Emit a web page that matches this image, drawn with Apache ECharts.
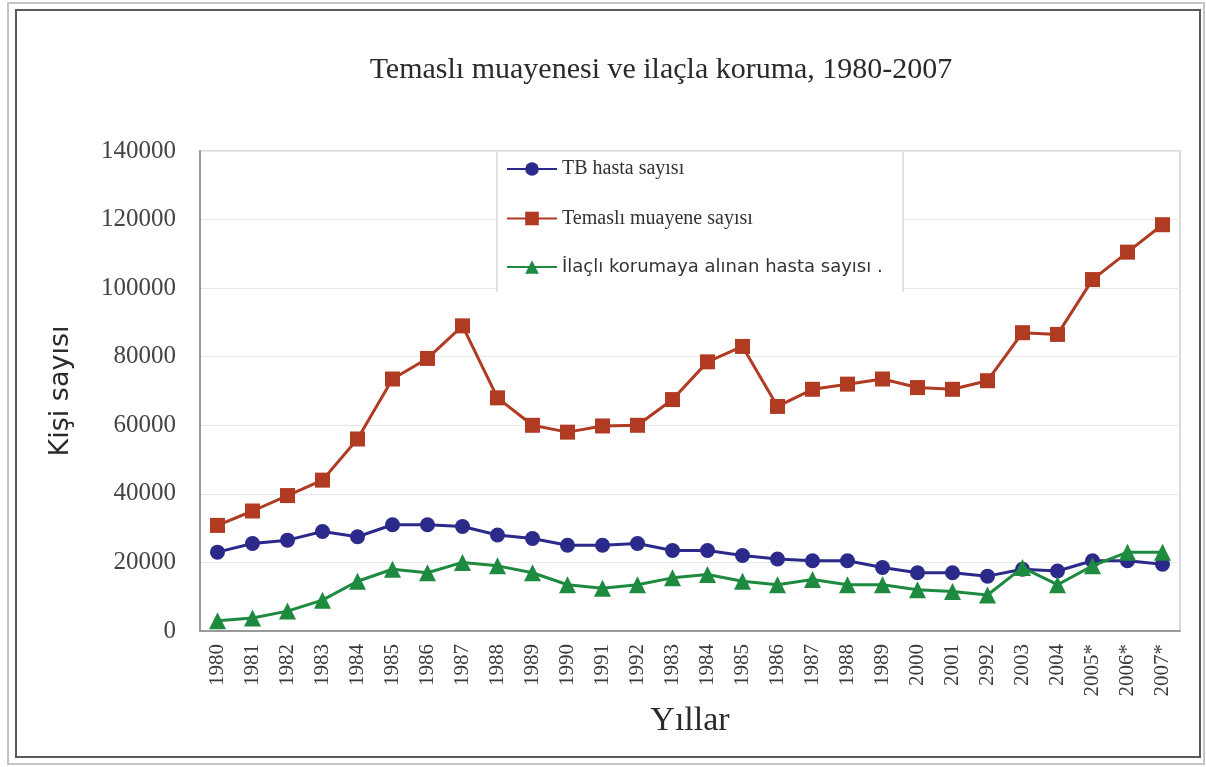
<!DOCTYPE html>
<html>
<head>
<meta charset="utf-8">
<script src="https://cdn.jsdelivr.net/npm/echarts@6/dist/echarts.min.js"></script>
<style>
  html, body { margin: 0; padding: 0; background: #fff; }
  #chart { width: 1206px; height: 767px; }
</style>
</head>
<body>
<div id="chart"></div>
<script>
// Years on the category axis (labels as printed)
const years = ['1980','1981','1982','1983','1984','1985','1986','1987','1988','1989',
  '1990','1991','1992','1983','1984','1985','1986','1987','1988','1989',
  '2000','2001','2992','2003','2004','2005*','2006*','2007*'];

// TB hasta sayısı
const tbCases = [23000,25500,26500,29000,27500,31000,31000,30500,28000,27000,
  25000,25000,25500,23500,23500,22000,21000,20500,20500,18500,
  17000,17000,16000,18000,17500,20500,20500,19500];

// Temaslı muayene sayısı
const contactExams = [30800,35000,39500,44000,56000,73500,79500,89000,68000,60000,
  58000,59800,60000,67500,78500,83000,65500,70500,72000,73500,
  71000,70500,73000,87000,86500,102500,110500,118500];

// İlaçlı korumaya alınan hasta sayısı
const prophylaxis = [3000,3800,5800,9000,14500,18000,17000,20000,19000,17000,
  13500,12500,13500,15500,16500,14500,13500,15000,13500,13500,
  12000,11500,10500,18500,13500,19000,23000,23000];

const yTicks = { min: 0, max: 140000, interval: 20000 };

const serif = '"Liberation Serif", "DejaVu Serif", serif';
const sans = '"DejaVu Sans", "Noto Sans", sans-serif';

const names = ['TB hasta sayısı', 'Temaslı muayene sayısı', 'İlaçlı korumaya alınan hasta sayısı .'];
const colors = ['#2b2a8a', '#b03a22', '#1d8a3f'];

const chart = echarts.init(document.getElementById('chart'), null, { renderer: 'canvas' });

chart.setOption({
  animation: false,
  backgroundColor: '#fff',
  title: {
    text: 'Temaslı muayenesi ve ilaçla koruma, 1980-2007',
    left: 656,
    textAlign: 'center',
    top: 50,
    textStyle: { fontFamily: serif, fontSize: 30, fontWeight: 'normal', color: '#2a2a2a' }
  },
  graphic: [
    // outer double frame
    { type: 'rect', shape: { x: 8, y: 3, width: 1196, height: 761 },
      style: { fill: 'none', stroke: '#c4c4c4', lineWidth: 2 }, z: 10 },
    { type: 'rect', shape: { x: 16, y: 10, width: 1184, height: 747 },
      style: { fill: 'none', stroke: '#5a5a5a', lineWidth: 2 }, z: 10 },
    // legend panel
    { type: 'rect', shape: { x: 497, y: 152, width: 406, height: 140 },
      style: { fill: '#fff', stroke: null }, z: 1 },
    { type: 'line', shape: { x1: 497, y1: 151, x2: 497, y2: 292 },
      style: { stroke: '#d8d8d8', lineWidth: 1.5 }, z: 1 },
    { type: 'line', shape: { x1: 903, y1: 151, x2: 903, y2: 292 },
      style: { stroke: '#d8d8d8', lineWidth: 1.5 }, z: 1 }
  ],
  legend: {
    orient: 'vertical',
    left: 506,
    top: 159,
    padding: 0,
    itemGap: 29.5,
    itemWidth: 50,
    itemHeight: 17,
    data: [
      { name: names[0], textStyle: { fontFamily: serif, fontSize: 20, color: '#333' } },
      { name: names[1], textStyle: { fontFamily: serif, fontSize: 20, color: '#333' } },
      { name: names[2], textStyle: { fontFamily: sans, fontSize: 18, color: '#333' } }
    ]
  },
  grid: { left: 200, right: 26, top: 151, bottom: 136, show: true, borderColor: '#cfcfcf', borderWidth: 1.5 },
  xAxis: {
    type: 'category',
    data: years,
    boundaryGap: true,
    name: 'Yıllar',
    nameLocation: 'middle',
    nameGap: 70,
    nameTextStyle: { fontFamily: serif, fontSize: 34, color: '#2a2a2a' },
    axisLine: { lineStyle: { color: '#9a9a9a', width: 2 } },
    axisTick: { show: false },
    axisLabel: { rotate: 90, margin: 13, interval: 0, fontFamily: serif, fontSize: 21, color: '#3a3a3a' }
  },
  yAxis: {
    type: 'value',
    min: yTicks.min,
    max: yTicks.max,
    interval: yTicks.interval,
    name: 'Kişi sayısı',
    nameLocation: 'middle',
    nameRotate: 90,
    nameGap: 126,
    nameTextStyle: { fontFamily: sans, fontSize: 27, color: '#2a2a2a' },
    axisLine: { show: true, lineStyle: { color: '#9a9a9a', width: 2 } },
    axisTick: { show: false },
    splitLine: { lineStyle: { color: '#e8e8e8', width: 1 } },
    axisLabel: { margin: 24, fontFamily: serif, fontSize: 25, color: '#444',
      formatter: function (v) { return String(v); } }
  },
  series: [
    { name: names[0], type: 'line', data: tbCases, color: colors[0],
      symbol: 'circle', symbolSize: 15, lineStyle: { width: 3 }, z: 4 },
    { name: names[1], type: 'line', data: contactExams, color: colors[1],
      symbol: 'rect', symbolSize: 15, lineStyle: { width: 3 }, z: 3 },
    { name: names[2], type: 'line', data: prophylaxis, color: colors[2],
      symbol: 'triangle', symbolSize: 17, lineStyle: { width: 3 }, z: 5 }
  ]
});
</script>
</body>
</html>
